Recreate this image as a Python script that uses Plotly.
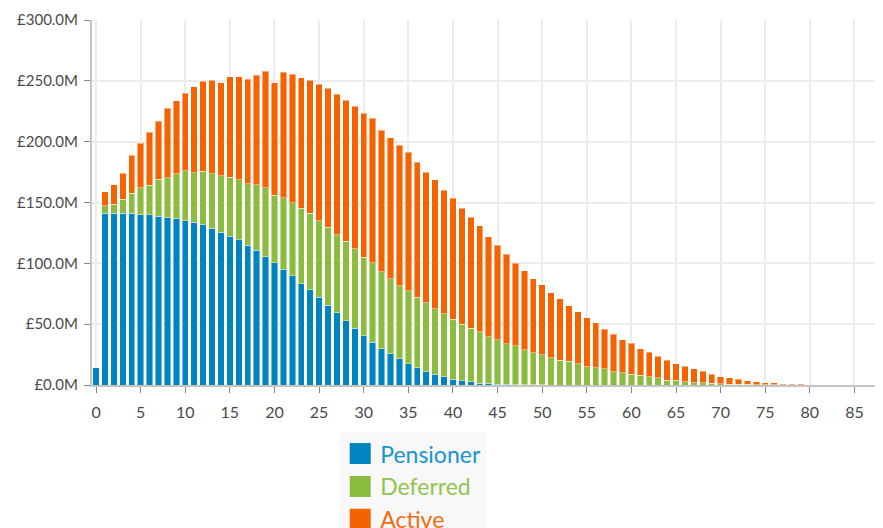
import plotly.graph_objects as go

years = list(range(0, 80))

pensioner = [14.2, 141.1, 141.1, 141.1, 141.1, 140.0, 140.0, 138.9, 137.3, 136.7,
             134.8, 133.7, 131.8, 128.8, 125.5, 122.2, 119.2, 115.0, 110.7, 105.5,
             100.3, 95.1, 89.6, 83.3, 78.3, 72.1, 65.5, 59.2, 52.9, 46.8,
             40.3, 35.3, 29.9, 25.7, 21.4, 17.3, 14.0, 10.9, 8.8, 6.6,
             4.7, 3.6, 2.8, 1.6, 1.6, 0.8, 0.5, 0.3, 0.2, 0.1,
             0.1, 0, 0, 0, 0, 0, 0, 0, 0, 0,
             0, 0, 0, 0, 0, 0, 0, 0, 0, 0,
             0, 0, 0, 0, 0, 0, 0, 0, 0, 0]

deferred = [0, 6.3, 7.4, 11.5, 16.7, 22.0, 24.1, 30.4, 33.1, 37.0,
            41.1, 40.9, 44.0, 44.9, 46.3, 48.5, 49.3, 50.4, 53.7, 56.7,
            55.7, 58.9, 60.0, 61.9, 62.8, 62.7, 64.1, 64.1, 65.2, 65.0,
            64.9, 65.0, 63.2, 61.7, 60.0, 60.0, 58.1, 56.8, 53.7, 51.8,
            49.3, 46.5, 44.0, 42.0, 37.9, 36.4, 33.5, 31.8, 28.6, 26.5,
            24.6, 22.2, 20.5, 19.5, 17.5, 15.1, 14.2, 13.2, 11.0, 10.1,
            9.0, 7.9, 6.8, 5.8, 3.8, 3.8, 2.8, 1.9, 1.9, 1.4,
            1.1, 0.8, 0.6, 0.5, 0.4, 0.3, 0.2, 0.1, 0.1, 0.05]

active = [0, 11.5, 15.9, 21.4, 31.0, 36.9, 43.6, 47.4, 57.0, 60.0,
          63.8, 70.6, 73.8, 76.7, 76.7, 82.7, 84.9, 85.8, 90.1, 95.6,
          92.5, 103.0, 106.0, 107.4, 109.3, 112.3, 114.5, 115.6, 115.9, 117.5,
          118.1, 118.9, 116.2, 115.9, 115.6, 114.2, 110.9, 107.1, 106.0, 101.6,
          99.7, 95.1, 91.0, 87.1, 82.4, 77.6, 73.4, 67.9, 65.2, 60.8,
          57.7, 53.7, 50.4, 45.7, 42.8, 40.2, 36.8, 32.6, 30.6, 27.2,
          25.2, 22.0, 20.0, 18.0, 16.7, 13.7, 12.5, 11.3, 9.3, 7.6,
          5.7, 5.0, 4.1, 3.1, 2.4, 1.6, 1.7, 0.7, 0.7, 0.55]

series_names = ["Pensioner", "Deferred", "Active"]
series_colors = ["#0084C1", "#8CBC3F", "#F56200"]
legend_text_colors = ["#1795D0", "#93C44E", "#F56A10"]
x_ticks = list(range(0, 90, 5))
y_ticks = [0, 50, 100, 150, 200, 250, 300]

FONT = "Lato"

fig = go.Figure()
for name, vals, col in zip(series_names, [pensioner, deferred, active], series_colors):
    fig.add_trace(go.Bar(
        x=years, y=vals, name=name, showlegend=False,
        marker=dict(color=col, line=dict(color="rgba(255,255,255,0.45)", width=1)),
    ))

# legend entries (large square swatches, coloured text)
for name, col, tcol in zip(series_names, series_colors, legend_text_colors):
    fig.add_trace(go.Scatter(
        x=[None], y=[None], mode="markers", legendgroup=name,
        name=f"<span style='color:{tcol}'>{name}</span>",
        marker=dict(symbol="square", size=16, color=col, line=dict(color=col, width=5)),
    ))

fig.update_layout(
    barmode="stack",
    bargap=0.28,
    width=883, height=528,
    margin=dict(l=84, r=16, t=12, b=151, autoexpand=False),
    paper_bgcolor="white", plot_bgcolor="white",
    font=dict(family=FONT, size=15, color="#4a4a4a"),
    legend=dict(
        x=0.317, y=-0.129, xanchor="left", yanchor="top",
        orientation="v", bgcolor="#f8f8f8", traceorder="normal",
        font=dict(family=FONT, size=23),
        tracegroupgap=0, itemsizing="trace",
    ),
    xaxis=dict(
        range=[-0.45, 87.3], tickvals=x_ticks, ticktext=[str(v) for v in x_ticks],
        tickfont=dict(size=16),
        showgrid=True, gridcolor="#ececec", gridwidth=2,
        showline=True, linecolor="#c4c4c4", linewidth=2,
        ticks="outside", ticklen=6, tickcolor="#888", tickwidth=1,
        ticklabelstandoff=6,
        zeroline=False,
    ),
    yaxis=dict(
        range=[0, 300], tickvals=y_ticks,
        ticktext=[f"£{v:.1f}M" for v in y_ticks],
        showgrid=True, gridcolor="#ececec", gridwidth=2,
        showline=True, linecolor="#c4c4c4", linewidth=2,
        ticks="outside", ticklen=6, tickcolor="#888", tickwidth=1,
        ticklabelstandoff=3,
        zeroline=False,
    ),
)

fig.write_html("out.html")
